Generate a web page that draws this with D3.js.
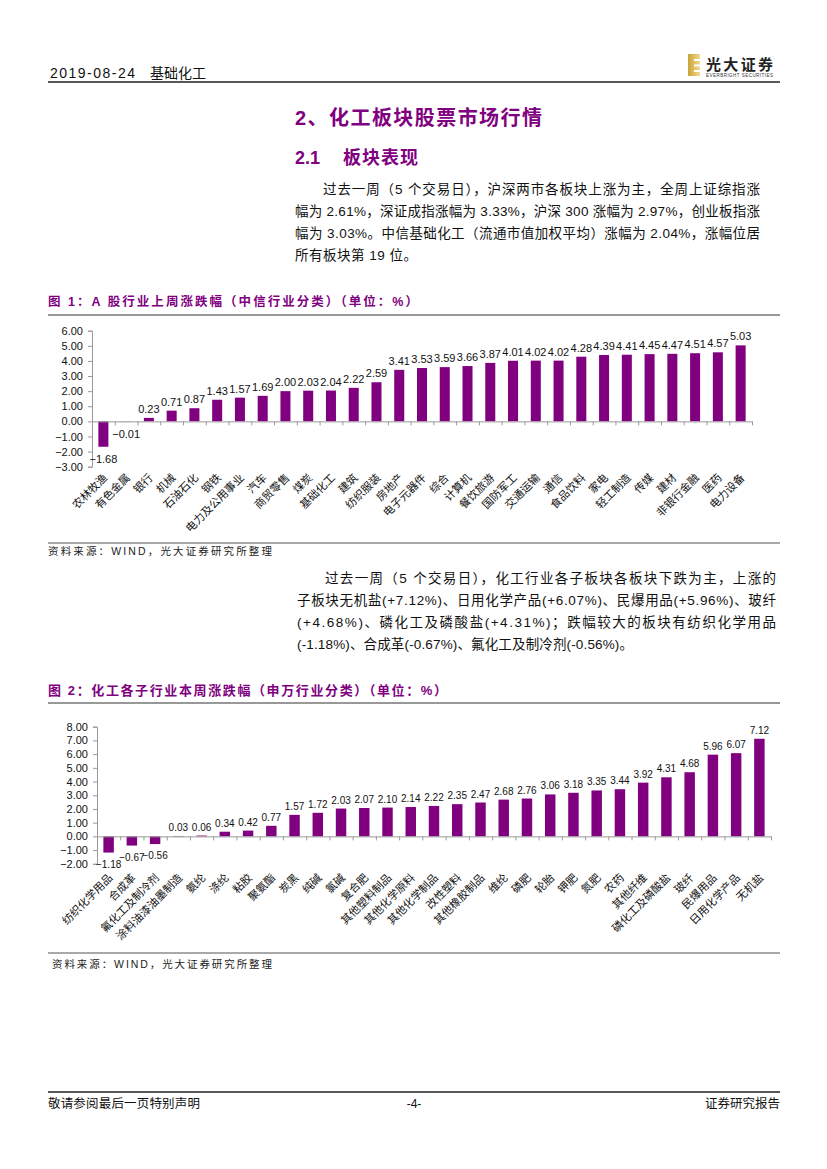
<!DOCTYPE html>
<html>
<head>
<meta charset="utf-8">
<script src="https://cdn.jsdelivr.net/npm/d3@7/dist/d3.min.js"></script>
<style>
  body { margin: 0; background: #fff; }
  svg text { font-family: "Liberation Sans", "Noto Sans CJK SC", sans-serif; }
</style>
</head>
<body>
<script>
// 图1：A股行业上周涨跌幅（中信行业分类）
var cats1 = ["农林牧渔", "有色金属", "银行", "机械", "石油石化", "钢铁", "电力及公用事业", "汽车",
  "商贸零售", "煤炭", "基础化工", "建筑", "纺织服装", "房地产", "电子元器件", "综合", "计算机",
  "餐饮旅游", "国防军工", "交通运输", "通信", "食品饮料", "家电", "轻工制造", "传媒", "建材",
  "非银行金融", "医药", "电力设备"];
var vals1 = [-1.68, -0.01, 0.23, 0.71, 0.87, 1.43, 1.57, 1.69, 2.00, 2.03, 2.04, 2.22, 2.59, 3.41,
  3.53, 3.59, 3.66, 3.87, 4.01, 4.02, 4.02, 4.28, 4.39, 4.41, 4.45, 4.47, 4.51, 4.57, 5.03];
var ticks1 = [-3, -2, -1, 0, 1, 2, 3, 4, 5, 6];

// 图2：化工各子行业本周涨跌幅（申万行业分类）
var cats2 = ["纺织化学用品", "合成革", "氟化工及制冷剂", "涂料油漆油墨制造", "氨纶", "涤纶", "粘胶",
  "聚氨酯", "炭黑", "纯碱", "氯碱", "复合肥", "其他塑料制品", "其他化学原料", "其他化学制品",
  "改性塑料", "其他橡胶制品", "维纶", "磷肥", "轮胎", "钾肥", "氮肥", "农药", "其他纤维",
  "磷化工及磷酸盐", "玻纤", "民爆用品", "日用化学产品", "无机盐"];
var vals2 = [-1.18, -0.67, -0.56, 0.03, 0.06, 0.34, 0.42, 0.77, 1.57, 1.72, 2.03, 2.07, 2.10, 2.14,
  2.22, 2.35, 2.47, 2.68, 2.76, 3.06, 3.18, 3.35, 3.44, 3.92, 4.31, 4.68, 5.96, 6.07, 7.12];
var ticks2 = [-2, -1, 0, 1, 2, 3, 4, 5, 6, 7, 8];

var para1 = [
  "过去一周（5 个交易日），沪深两市各板块上涨为主，全周上证综指涨",
  "幅为 2.61%，深证成指涨幅为 3.33%，沪深 300 涨幅为 2.97%，创业板指涨",
  "幅为 3.03%。中信基础化工（流通市值加权平均）涨幅为 2.04%，涨幅位居",
  "所有板块第 19 位。"
];
var para2 = [
  "过去一周（5 个交易日），化工行业各子板块各板块下跌为主，上涨的",
  "子板块无机盐(+7.12%)、日用化学产品(+6.07%)、民爆用品(+5.96%)、玻纤",
  "(+4.68%)、磷化工及磷酸盐(+4.31%)；跌幅较大的板块有纺织化学用品",
  "(-1.18%)、合成革(-0.67%)、氟化工及制冷剂(-0.56%)。"
];

var purple = "#800080";
var svg = d3.select("body").append("svg").attr("width", 827).attr("height", 1169);

function text(x, y, s, size, opts) {
  opts = opts || {};
  var t = svg.append("text").attr("x", x).attr("y", y).attr("font-size", size)
    .attr("fill", opts.fill || "#111").text(s);
  if (opts.bold) t.attr("font-weight", "bold");
  if (opts.anchor) t.attr("text-anchor", opts.anchor);
  if (opts.len) t.attr("textLength", opts.len).attr("lengthAdjust", "spacing");
  return t;
}
function hline(x1, x2, y, w, col) {
  svg.append("line").attr("x1", x1).attr("x2", x2).attr("y1", y).attr("y2", y)
    .attr("stroke", col || "#333").attr("stroke-width", w || 1);
}

// 页眉
text(50, 78, "2019-08-24", 14, { len: 85 });
text(150, 78, "基础化工", 14);
hline(48, 780, 82, 1.5, "#222");
// logo
var lg = svg.append("defs").append("linearGradient").attr("id", "gold").attr("x1", 0).attr("x2", 1);
lg.append("stop").attr("offset", 0).attr("stop-color", "#c9a33a");
lg.append("stop").attr("offset", 1).attr("stop-color", "#f1dc8c");
svg.append("rect").attr("x", 688).attr("y", 54).attr("width", 12).attr("height", 22).attr("fill", "url(#gold)");
[59, 64.5, 70].forEach(function (yy) {
  svg.append("rect").attr("x", 694).attr("y", yy).attr("width", 6).attr("height", 2).attr("fill", "#fff");
});
text(706, 70, "光大证券", 15, { bold: true, fill: "#222", len: 67 });
text(706, 77, "EVERBRIGHT SECURITIES", 4.5, { fill: "#333", len: 67 });

// 标题
text(295, 125, "2、化工板块股票市场行情", 20, { bold: true, fill: purple, len: 247 });
text(295, 164, "2.1", 18, { bold: true, fill: purple });
text(343, 164, "板块表现", 18, { bold: true, fill: purple, len: 75 });

// 段落1
var p1y = [194, 216, 238, 260];
para1.forEach(function (s, i) {
  var x = i === 0 ? 323 : 295;
  text(x, p1y[i], s, 13.5, { len: i === 3 ? 122 : 760 - x });
});

// 图1 标题
text(48, 306, "图 1：A 股行业上周涨跌幅（中信行业分类）（单位：%）", 12.5, { bold: true, fill: purple, len: 370 });
hline(48, 780, 315, 1.2, "#333");

function drawChart(c) {
  var g = svg.append("g");
  var x = d3.scaleBand().domain(c.cats).range([c.x0, c.x1])
    .paddingInner(c.pad).paddingOuter(c.pad / 2);
  var y = d3.scaleLinear().domain([d3.min(c.ticks), d3.max(c.ticks)]).range([c.yBot, c.yTop]);

  var ya = g.append("g").attr("transform", "translate(" + c.x0 + ",0)")
    .call(d3.axisLeft(y).tickValues(c.ticks).tickFormat(d3.format(".2f"))
      .tickSize(4).tickSizeOuter(4).tickPadding(5));
  ya.selectAll("line,path").attr("stroke", "#999");
  ya.selectAll("text").attr("font-size", 11).attr("fill", "#111");

  g.selectAll("rect.bar").data(c.vals).enter().append("rect")
    .attr("class", "bar")
    .attr("x", function (d, i) { return x(c.cats[i]); })
    .attr("width", x.bandwidth())
    .attr("y", function (d) { return y(Math.max(0, d)); })
    .attr("height", function (d) { return Math.abs(y(d) - y(0)); })
    .attr("fill", purple);

  // 横轴（位于 0 处），刻度在类别分界
  var xi = d3.scaleLinear().domain([0, c.cats.length]).range([c.x0, c.x1]);
  var xa = g.append("g").attr("transform", "translate(0," + y(0) + ")")
    .call(d3.axisBottom(xi).tickValues(d3.range(c.cats.length + 1))
      .tickSize(4).tickSizeOuter(0).tickFormat(""));
  xa.selectAll("line,path").attr("stroke", "#999");

  // 数据标签
  g.selectAll("text.val").data(c.vals).enter().append("text")
    .attr("class", "val")
    .attr("x", function (d, i) { return x(c.cats[i]) + x.bandwidth() / 2; })
    .attr("y", function (d) { return d >= 0 ? y(d) - 5 : y(d) + c.negOff; })
    .attr("text-anchor", "middle").attr("font-size", c.valSize).attr("fill", "#111")
    .text(function (d) { return d3.format(".2f")(d); });

  // 类别标签
  g.selectAll("text.cat").data(c.cats).enter().append("text")
    .attr("class", "cat")
    .attr("transform", function (d) {
      return "translate(" + (x(d) + x.bandwidth() / 2 + c.labDx) + "," + (c.yBot + c.labDy) + ") rotate(-45)";
    })
    .attr("dy", "0.35em")
    .attr("text-anchor", "end").attr("font-size", 11).attr("fill", "#111")
    .text(function (d) { return d; });
}

drawChart({ cats: cats1, vals: vals1, ticks: ticks1, x0: 92, x1: 752, yTop: 330.7, yBot: 466.7,
  pad: 0.56, negOff: 16, labDx: 2, labDy: 9, valSize: 11 });

hline(48, 780, 543, 1.2, "#555");
text(48, 555, "资料来源：WIND，光大证券研究所整理", 10.5, { len: 224, fill: "#222" });

// 段落2
var p2y = [583, 605, 627, 649];
para2.forEach(function (s, i) {
  var x = i === 0 ? 325 : 297;
  text(x, p2y[i], s, 13.5, { len: i === 3 ? 336 : 776 - x });
});

// 图2 标题
text(48, 695, "图 2：化工各子行业本周涨跌幅（申万行业分类）（单位：%）", 13, { bold: true, fill: purple, len: 399 });
hline(48, 780, 703, 1.2, "#333");

drawChart({ cats: cats2, vals: vals2, ticks: ticks2, x0: 97, x1: 771, yTop: 726.7, yBot: 863.8,
  pad: 0.55, negOff: 15, labDx: 2, labDy: 12, valSize: 10 });

hline(48, 780, 953, 1.2, "#555");
text(52, 968, "资料来源：WIND，光大证券研究所整理", 10.5, { len: 220, fill: "#222" });

// 页脚
hline(48, 780, 1092, 1.5, "#222");
text(48, 1108, "敬请参阅最后一页特别声明", 12.5, { len: 152 });
text(414, 1108, "-4-", 12, { anchor: "middle" });
text(780, 1108, "证券研究报告", 12.5, { anchor: "end" });
</script>
</body>
</html>
